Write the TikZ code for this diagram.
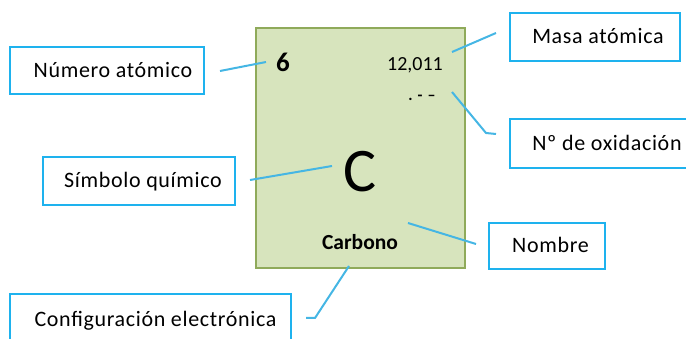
\documentclass[tikz,border=0pt]{standalone}
\usepackage{fontspec}
\setmainfont{Carlito}
\newfontfamily\lab[LetterSpace=3.0]{Carlito}
\definecolor{cellfill}{HTML}{D7E4BD}
\definecolor{celldraw}{HTML}{8FAA5A}
\definecolor{boxdraw}{HTML}{1EB2EE}
\definecolor{linkcol}{HTML}{45B6E4}
\begin{document}
\begin{tikzpicture}[x=1pt,y=-1pt,
  labbox/.style={draw=boxdraw,line width=2pt,fill=white,rectangle,inner sep=0pt,
    font=\lab\fontsize{22}{22}\selectfont,text height=14pt,text depth=0pt},
  link/.style={draw=linkcol,line width=2pt},
]
\useasboundingbox (0,0) rectangle (686,339);
% element cell
\node[draw=celldraw,fill=cellfill,line width=2.5pt,minimum width=209pt,minimum height=240pt,inner sep=0pt] (elem) at (360.5,148) {};
\node[font=\bfseries\fontsize{27}{27}\selectfont,text height=17pt,text depth=0pt,inner sep=0pt] (num) at (283,63) {6};
\node[font=\fontsize{20}{20}\selectfont,text height=13pt,text depth=0pt,inner sep=0pt] (mass) at (415,64) {12,011};
\node[font=\bfseries\fontsize{16}{16}\selectfont,inner sep=0pt] (ox) at (422,98) {.\hspace{5pt}-\hspace{5pt}–};
\node[font=\fontsize{62}{62}\selectfont,text height=40pt,text depth=0pt,inner sep=0pt] (sym) at (360,172) {C};
\node[font=\bfseries\fontsize{21.5}{21.5}\selectfont,text height=14pt,text depth=0pt,inner sep=0pt] (name) at (360,243) {Carbono};
% label boxes
\node[labbox,minimum width=194pt,minimum height=47pt] (bnum) at (107,70.5) {\hspace*{12pt}Número atómico};
\node[labbox,minimum width=192pt,minimum height=48pt] (bsym) at (139,181) {\hspace*{8pt}Símbolo químico};
\node[labbox,minimum width=170pt,minimum height=48pt] (bmass) at (595,37) {\hspace*{6pt}Masa atómica};
\node[labbox,minimum width=180pt,minimum height=49pt] (box) at (600,143.5) {\hspace*{14pt}Nº de oxidación};
\node[labbox,minimum width=116pt,minimum height=46pt] (bname) at (547,246) {\hspace*{7pt}Nombre};
\node[labbox,minimum width=281pt,minimum height=51pt] (bconf) at (150.5,319.5) {\hspace*{10pt}Configuración electrónica};
% connector ends
\coordinate (n1) at (220,71);  \coordinate (n2) at (266,62);
\coordinate (s1) at (250,180); \coordinate (s2) at (332,166);
\coordinate (m1) at (452,52);  \coordinate (m2) at (496,33);
\coordinate (o1) at (452,92);  \coordinate (o2) at (486,133); \coordinate (o3) at (496,134);
\coordinate (r1) at (408,223); \coordinate (r2) at (476,244);
\coordinate (c1) at (349,266); \coordinate (c2) at (315,318); \coordinate (c3) at (306,318);
\draw[link] (n1) -- (n2);
\draw[link] (s1) -- (s2);
\draw[link] (m1) -- (m2);
\draw[link] (o1) -- (o2) -- (o3);
\draw[link] (r1) -- (r2);
\draw[link] (c1) -- (c2) -- (c3);
\end{tikzpicture}
\end{document}
